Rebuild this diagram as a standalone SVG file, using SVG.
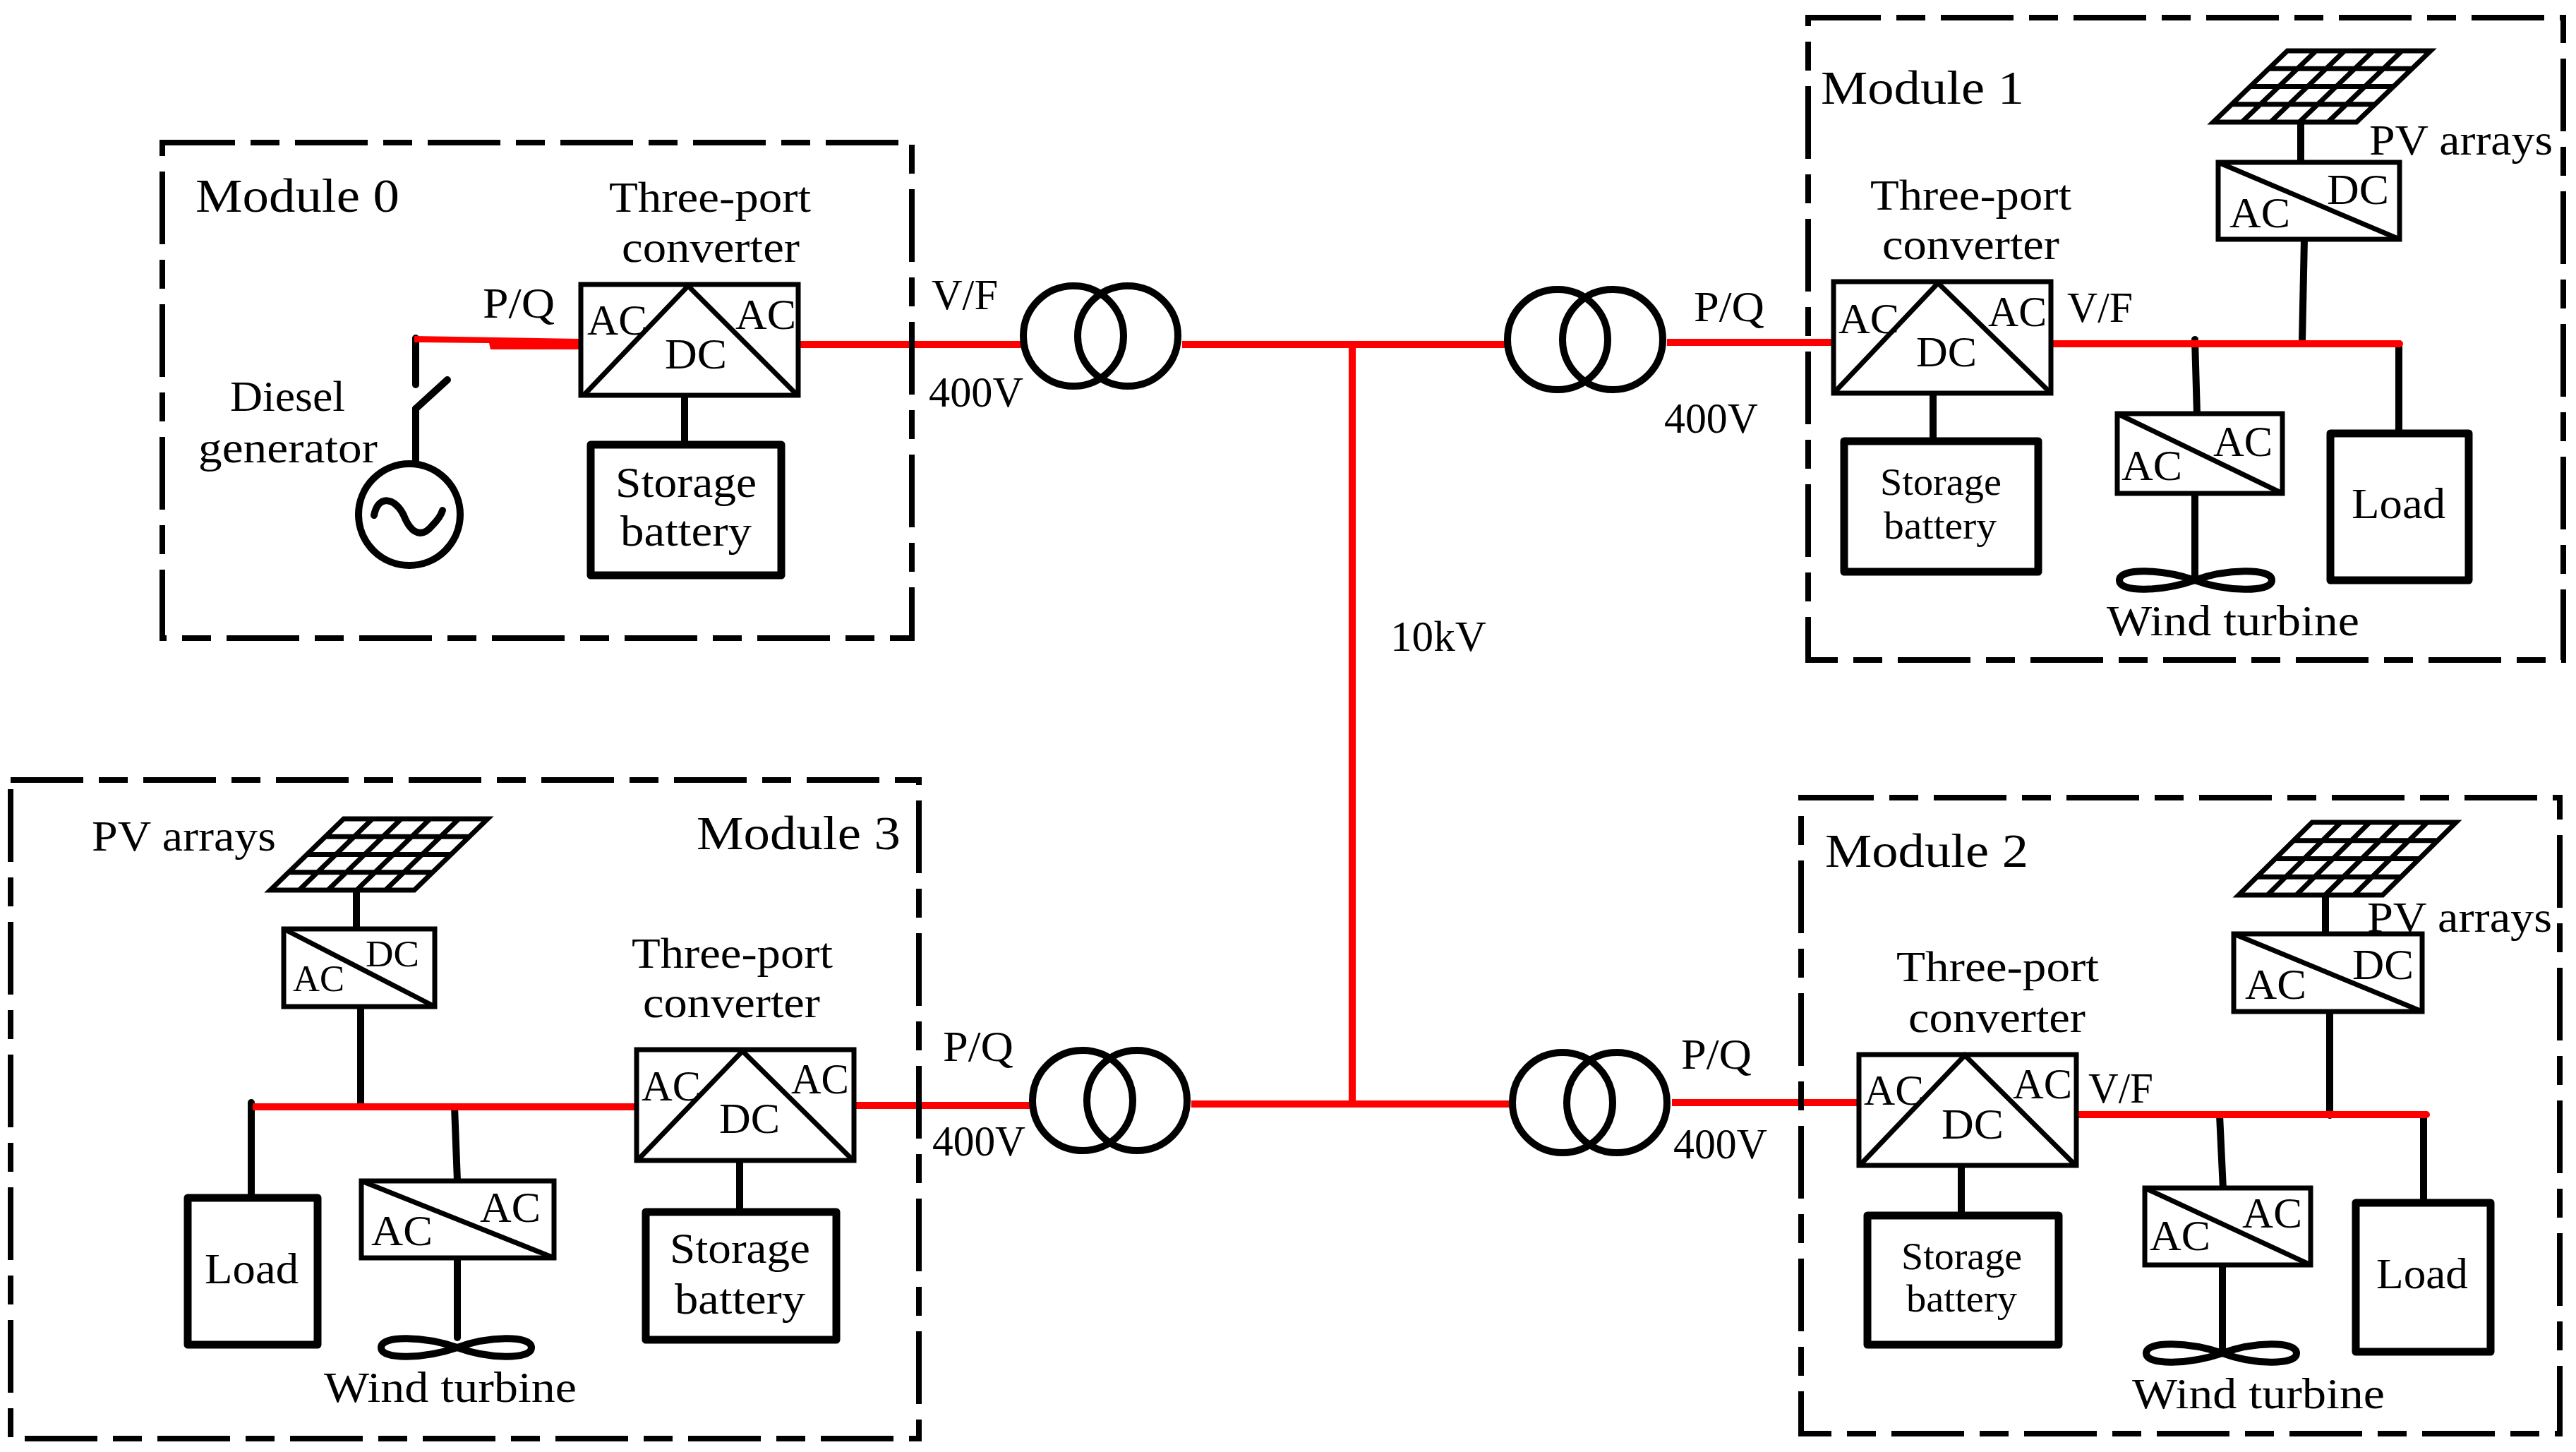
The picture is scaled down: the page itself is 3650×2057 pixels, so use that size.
<svg xmlns="http://www.w3.org/2000/svg" xmlns:xlink="http://www.w3.org/1999/xlink" width="3650" height="2057" viewBox="0 0 3650 2057">
<style>
text{font-family:"Liberation Serif","Times New Roman",serif;font-size:62px;fill:#000}
.m{font-size:68px}.s{font-size:54px}.a{font-size:52px}
.frame{fill:none;stroke:#000;stroke-width:8;stroke-dasharray:103 22 41 22}
.box{fill:#fff;stroke:#000;stroke-width:7}
.heavy{fill:#fff;stroke:#000;stroke-width:11;stroke-linejoin:round}
.diag{fill:none;stroke:#000;stroke-width:7}
.coil{fill:none;stroke:#000;stroke-width:10}
.pv{fill:#fff;stroke:#000;stroke-width:7;vector-effect:non-scaling-stroke}
.wire{fill:none;stroke:#000;stroke-width:10;stroke-linecap:round}
.bus{fill:none;stroke:#f00;stroke-width:10}
.blade{fill:none;stroke:#000;stroke-width:10}
</style>
<defs>
<path id="panel" class="pv" d="M0 0H1V1H0ZM0 .25H1M0 .5H1M0 .75H1M.2 0V1M.4 0V1M.6 0V1M.8 0V1"/>
</defs>
<rect width="3650" height="2057" fill="#fff"/>

<g id="connectors">
<path class="wire" d="M589 479V545M589 579V654"/>
<path class="wire" d="M970 560V630"/>
<path class="wire" d="M3260 173V229M3265 339L3262 484M3110 481L3113 587M3110 699V815M3399 487V614M2739 557V625"/>
<path class="wire" d="M3295 1268V1323M3301 1433V1580M3145 1580L3150 1685M3149 1792V1917M3434 1579V1703M2779 1651V1722"/>
<path class="wire" d="M505 1261V1316M511 1426V1568M356 1562V1697M644 1568L648 1673M648 1782V1895M1048 1644V1717"/>
<path fill="#f00" d="M587 476L821 480V495H695L693 486L587 485Z"/>
<path class="bus" d="M1131 488H1447M1675 488H2133M2362 485H2598M1916 488V1564M1300 1566H1460M1688 1564H2139M2369 1562H2634"/>
<path class="bus" stroke-linecap="round" d="M2904 487H3400M2940 1579H3438"/>
<path class="bus" d="M358 1568H902M1210 1566H1300"/>
</g>

<g id="module0">
<rect class="frame" x="230" y="202" width="1062" height="702"/>
<text class="m" x="277" y="300" textLength="289" lengthAdjust="spacingAndGlyphs">Module 0</text>
<text x="684" y="450" textLength="102" lengthAdjust="spacingAndGlyphs">P/Q</text>
</g>
<g id="diesel-generator">
<path class="wire" d="M589 579L634 538"/>
<circle class="coil" cx="580" cy="729" r="72"/>
<path class="wire" d="M530 730C536 700 560 705 572 730C584 760 600 760 612 745C620 737 625 730 627 723"/>
<text x="326" y="582" textLength="163" lengthAdjust="spacingAndGlyphs">Diesel</text>
<text x="281" y="655" textLength="254" lengthAdjust="spacingAndGlyphs">generator</text>
</g>
<g id="converter0">
<rect class="box" x="823" y="403" width="308" height="157"/>
<path class="diag" d="M827 560L975 405L1130 560"/>
<text x="832" y="474" textLength="85" lengthAdjust="spacingAndGlyphs">AC</text>
<text x="1042" y="466" textLength="86" lengthAdjust="spacingAndGlyphs">AC</text>
<text x="942" y="522" textLength="88" lengthAdjust="spacingAndGlyphs">DC</text>
<text x="863" y="300" textLength="286" lengthAdjust="spacingAndGlyphs">Three-port</text>
<text x="881" y="371" textLength="252" lengthAdjust="spacingAndGlyphs">converter</text>
</g>
<g id="storage0">
<rect class="heavy" x="837" y="630" width="270" height="185"/>
<text x="872" y="704" textLength="200" lengthAdjust="spacingAndGlyphs">Storage</text>
<text x="879" y="773" textLength="186" lengthAdjust="spacingAndGlyphs">battery</text>
</g>

<g id="transformer-t0"><circle class="coil" cx="1521" cy="476" r="71"/><circle class="coil" cx="1598" cy="476" r="71"/></g>
<g id="transformer-t1"><circle class="coil" cx="2207" cy="481" r="71"/><circle class="coil" cx="2285" cy="481" r="71"/></g>
<g id="transformer-t3"><circle class="coil" cx="1534" cy="1559" r="71"/><circle class="coil" cx="1611" cy="1559" r="71"/></g>
<g id="transformer-t2"><circle class="coil" cx="2214" cy="1562" r="71"/><circle class="coil" cx="2291" cy="1562" r="71"/></g>

<g id="line-labels">
<text x="1320" y="438" textLength="94" lengthAdjust="spacingAndGlyphs">V/F</text>
<text x="1316" y="576" textLength="134" lengthAdjust="spacingAndGlyphs">400V</text>
<text x="2400" y="455" textLength="100" lengthAdjust="spacingAndGlyphs">P/Q</text>
<text x="2358" y="613" textLength="133" lengthAdjust="spacingAndGlyphs">400V</text>
<text x="1970" y="922" textLength="136" lengthAdjust="spacingAndGlyphs">10kV</text>
<text x="1336" y="1503" textLength="100" lengthAdjust="spacingAndGlyphs">P/Q</text>
<text x="1321" y="1637" textLength="132" lengthAdjust="spacingAndGlyphs">400V</text>
<text x="2382" y="1514" textLength="100" lengthAdjust="spacingAndGlyphs">P/Q</text>
<text x="2371" y="1641" textLength="133" lengthAdjust="spacingAndGlyphs">400V</text>
</g>

<g id="module1">
<rect class="frame" x="2562" y="25" width="1070" height="910"/>
<text class="m" x="2580" y="147" textLength="288" lengthAdjust="spacingAndGlyphs">Module 1</text>
</g>
<g id="pv1">
<use xlink:href="#panel" href="#panel" transform="matrix(203 0 -105 101 3241 72)"/>
<text x="3357" y="219" textLength="260" lengthAdjust="spacingAndGlyphs">PV arrays</text>
</g>
<g id="inverter1">
<rect class="box" x="3143" y="230" width="257" height="109"/>
<path class="diag" d="M3143 230L3400 339"/>
<text x="3159" y="322" textLength="86" lengthAdjust="spacingAndGlyphs">AC</text>
<text x="3297" y="289" textLength="88" lengthAdjust="spacingAndGlyphs">DC</text>
</g>
<g id="converter1">
<rect class="box" x="2598" y="399" width="308" height="158"/>
<path class="diag" d="M2600 555L2746 401L2904 555"/>
<text x="2605" y="472" textLength="86" lengthAdjust="spacingAndGlyphs">AC</text>
<text x="2817" y="462" textLength="83" lengthAdjust="spacingAndGlyphs">AC</text>
<text x="2715" y="519" textLength="86" lengthAdjust="spacingAndGlyphs">DC</text>
<text x="2929" y="456" textLength="93" lengthAdjust="spacingAndGlyphs">V/F</text>
<text x="2650" y="297" textLength="285" lengthAdjust="spacingAndGlyphs">Three-port</text>
<text x="2667" y="367" textLength="251" lengthAdjust="spacingAndGlyphs">converter</text>
</g>
<g id="storage1">
<rect class="heavy" x="2613" y="625" width="275" height="185"/>
<text class="s" x="2664" y="701" textLength="172" lengthAdjust="spacingAndGlyphs">Storage</text>
<text class="s" x="2669" y="763" textLength="160" lengthAdjust="spacingAndGlyphs">battery</text>
</g>
<g id="wind1">
<rect class="box" x="3000" y="586" width="234" height="113"/>
<path class="diag" d="M3000 586L3234 699"/>
<text x="3006" y="680" textLength="86" lengthAdjust="spacingAndGlyphs">AC</text>
<text x="3136" y="646" textLength="84" lengthAdjust="spacingAndGlyphs">AC</text>
<path class="blade" d="M3110 822C3063 806 3003 804 3003 822C3003 840 3063 838 3110 822C3153 806 3219 804 3219 822C3219 840 3153 838 3110 822Z"/>
<text x="2985" y="900" textLength="358" lengthAdjust="spacingAndGlyphs">Wind turbine</text>
</g>
<g id="load1">
<rect class="heavy" x="3302" y="614" width="196" height="208"/>
<text x="3332" y="734" textLength="133" lengthAdjust="spacingAndGlyphs">Load</text>
</g>

<g id="module2">
<rect class="frame" x="2552" y="1130" width="1075" height="901"/>
<text class="m" x="2586" y="1228" textLength="288" lengthAdjust="spacingAndGlyphs">Module 2</text>
</g>
<g id="pv2">
<use xlink:href="#panel" href="#panel" transform="matrix(204 0 -104 103 3276 1165)"/>
<text x="3354" y="1320" textLength="262" lengthAdjust="spacingAndGlyphs">PV arrays</text>
</g>
<g id="inverter2">
<rect class="box" x="3165" y="1323" width="267" height="110"/>
<path class="diag" d="M3165 1323L3432 1433"/>
<text x="3181" y="1415" textLength="87" lengthAdjust="spacingAndGlyphs">AC</text>
<text x="3333" y="1387" textLength="87" lengthAdjust="spacingAndGlyphs">DC</text>
</g>
<g id="converter2">
<rect class="box" x="2634" y="1494" width="308" height="157"/>
<path class="diag" d="M2636 1650L2784 1495L2940 1650"/>
<text x="2641" y="1565" textLength="85" lengthAdjust="spacingAndGlyphs">AC</text>
<text x="2852" y="1556" textLength="84" lengthAdjust="spacingAndGlyphs">AC</text>
<text x="2751" y="1613" textLength="88" lengthAdjust="spacingAndGlyphs">DC</text>
<text x="2959" y="1562" textLength="92" lengthAdjust="spacingAndGlyphs">V/F</text>
<text x="2687" y="1390" textLength="287" lengthAdjust="spacingAndGlyphs">Three-port</text>
<text x="2704" y="1462" textLength="251" lengthAdjust="spacingAndGlyphs">converter</text>
</g>
<g id="storage2">
<rect class="heavy" x="2646" y="1722" width="271" height="183"/>
<text class="s" x="2694" y="1798" textLength="171" lengthAdjust="spacingAndGlyphs">Storage</text>
<text class="s" x="2701" y="1858" textLength="157" lengthAdjust="spacingAndGlyphs">battery</text>
</g>
<g id="wind2">
<rect class="box" x="3039" y="1683" width="235" height="109"/>
<path class="diag" d="M3039 1683L3274 1792"/>
<text x="3046" y="1771" textLength="86" lengthAdjust="spacingAndGlyphs">AC</text>
<text x="3177" y="1739" textLength="85" lengthAdjust="spacingAndGlyphs">AC</text>
<path class="blade" d="M3149 1917C3102 1901 3041 1899 3041 1917C3041 1935 3102 1933 3149 1917C3192 1901 3254 1899 3254 1917C3254 1935 3192 1933 3149 1917Z"/>
<text x="3021" y="1995" textLength="358" lengthAdjust="spacingAndGlyphs">Wind turbine</text>
</g>
<g id="load2">
<rect class="heavy" x="3338" y="1704" width="191" height="211"/>
<text x="3367" y="1825" textLength="130" lengthAdjust="spacingAndGlyphs">Load</text>
</g>

<g id="module3">
<rect class="frame" x="15" y="1105" width="1287" height="933"/>
<text class="m" x="987" y="1203" textLength="289" lengthAdjust="spacingAndGlyphs">Module 3</text>
</g>
<g id="pv3">
<use xlink:href="#panel" href="#panel" transform="matrix(204 0 -104 101 487 1160)"/>
<text x="130" y="1205" textLength="261" lengthAdjust="spacingAndGlyphs">PV arrays</text>
</g>
<g id="inverter3">
<rect class="box" x="402" y="1316" width="214" height="110"/>
<path class="diag" d="M402 1316L616 1426"/>
<text class="a" x="415" y="1404" textLength="73" lengthAdjust="spacingAndGlyphs">AC</text>
<text class="a" x="518" y="1369" textLength="76" lengthAdjust="spacingAndGlyphs">DC</text>
</g>
<g id="converter3">
<rect class="box" x="902" y="1487" width="308" height="157"/>
<path class="diag" d="M904 1643L1052 1489L1208 1643"/>
<text x="909" y="1559" textLength="84" lengthAdjust="spacingAndGlyphs">AC</text>
<text x="1121" y="1549" textLength="82" lengthAdjust="spacingAndGlyphs">AC</text>
<text x="1019" y="1605" textLength="86" lengthAdjust="spacingAndGlyphs">DC</text>
<text x="895" y="1371" textLength="285" lengthAdjust="spacingAndGlyphs">Three-port</text>
<text x="911" y="1441" textLength="251" lengthAdjust="spacingAndGlyphs">converter</text>
</g>
<g id="storage3">
<rect class="heavy" x="915" y="1717" width="270" height="181"/>
<text x="949" y="1789" textLength="199" lengthAdjust="spacingAndGlyphs">Storage</text>
<text x="956" y="1861" textLength="185" lengthAdjust="spacingAndGlyphs">battery</text>
</g>
<g id="wind3">
<rect class="box" x="512" y="1673" width="273" height="109"/>
<path class="diag" d="M512 1673L785 1782"/>
<text x="526" y="1764" textLength="87" lengthAdjust="spacingAndGlyphs">AC</text>
<text x="680" y="1731" textLength="86" lengthAdjust="spacingAndGlyphs">AC</text>
<path class="blade" d="M648 1909C601 1893 540 1891 540 1909C540 1927 601 1925 648 1909C691 1893 753 1891 753 1909C753 1927 691 1925 648 1909Z"/>
<text x="459" y="1986" textLength="358" lengthAdjust="spacingAndGlyphs">Wind turbine</text>
</g>
<g id="load3">
<rect class="heavy" x="266" y="1697" width="184" height="208"/>
<text x="290" y="1818" textLength="133" lengthAdjust="spacingAndGlyphs">Load</text>
</g>
</svg>
